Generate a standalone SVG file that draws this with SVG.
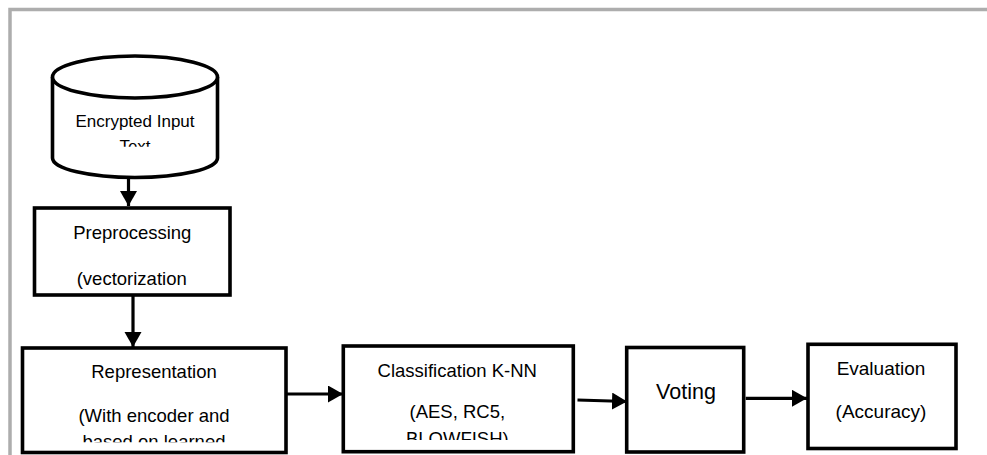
<svg xmlns="http://www.w3.org/2000/svg" width="987" height="455" viewBox="0 0 987 455">
<style>
.box{fill:#fff;stroke:#000;stroke-width:3.6}
.t{font-family:"Liberation Sans",Arial,sans-serif;font-size:18.5px;fill:#000;text-anchor:middle}
.c{stroke:#000;stroke-width:3.2;fill:none}
</style>
<defs>
<marker id="ah" markerUnits="userSpaceOnUse" markerWidth="16" markerHeight="18" refX="15" refY="8.5" orient="auto">
<path d="M0,0 L15,8.5 L0,17 z" fill="#000"/>
</marker>
<clipPath id="clipCyl"><rect x="50" y="100" width="170" height="46.7"/></clipPath>
<clipPath id="clipRep"><rect x="20" y="340" width="270" height="102.3"/></clipPath>
<clipPath id="clipCls"><rect x="340" y="340" width="240" height="100"/></clipPath>
</defs>
<rect x="0" y="0" width="987" height="455" fill="#fff"/>
<path d="M10,455 V9.5 H987" fill="none" stroke="#adadad" stroke-width="3.5"/>

<g id="connectors">
<line class="c" x1="128.5" y1="177" x2="128.5" y2="206" marker-end="url(#ah)"/>
<line class="c" x1="133" y1="296" x2="133" y2="347" marker-end="url(#ah)"/>
<line class="c" x1="286" y1="394" x2="343" y2="394" marker-end="url(#ah)"/>
<line class="c" x1="577.5" y1="400" x2="627" y2="401.5" marker-end="url(#ah)"/>
<line class="c" x1="745.7" y1="398.3" x2="807" y2="398.3" marker-end="url(#ah)"/>
</g>

<g id="input">
<path class="box" d="M52.5,77 V158 A82.5,19.5 0 0 0 217.5,158 V77"/>
<ellipse class="box" cx="135" cy="77" rx="82.5" ry="21"/>
<text class="t" x="135" y="127.3" style="font-size:17px">Encrypted Input</text>
<text class="t" x="135" y="151.5" style="font-size:17px" clip-path="url(#clipCyl)">Text</text>
</g>

<g id="preprocessing">
<rect class="box" x="34.5" y="208" width="195.5" height="87"/>
<text class="t" x="132.3" y="239.3">Preprocessing</text>
<text class="t" x="131.7" y="285">(vectorization</text>
</g>

<g id="representation">
<rect class="box" x="22.5" y="348" width="263.5" height="104.5"/>
<text class="t" x="154" y="378.3">Representation</text>
<text class="t" x="154" y="421.7">(With encoder and</text>
<text class="t" x="154" y="448" clip-path="url(#clipRep)">based on learned</text>
</g>

<g id="classification">
<rect class="box" x="343.3" y="346" width="230" height="105.7"/>
<text class="t" x="457.3" y="376.7">Classification K-NN</text>
<text class="t" x="457.3" y="418.3">(AES, RC5,</text>
<text class="t" x="457.3" y="445" clip-path="url(#clipCls)">BLOWFISH)</text>
</g>

<g id="voting">
<rect class="box" x="626.7" y="347.5" width="117" height="104.5"/>
<text class="t" x="686" y="399" style="font-size:21.5px">Voting</text>
</g>

<g id="evaluation">
<rect class="box" x="808" y="344.3" width="148" height="104.2"/>
<text class="t" x="881" y="375" style="font-size:19px">Evaluation</text>
<text class="t" x="881" y="418.3" style="font-size:19px">(Accuracy)</text>
</g>
</svg>
